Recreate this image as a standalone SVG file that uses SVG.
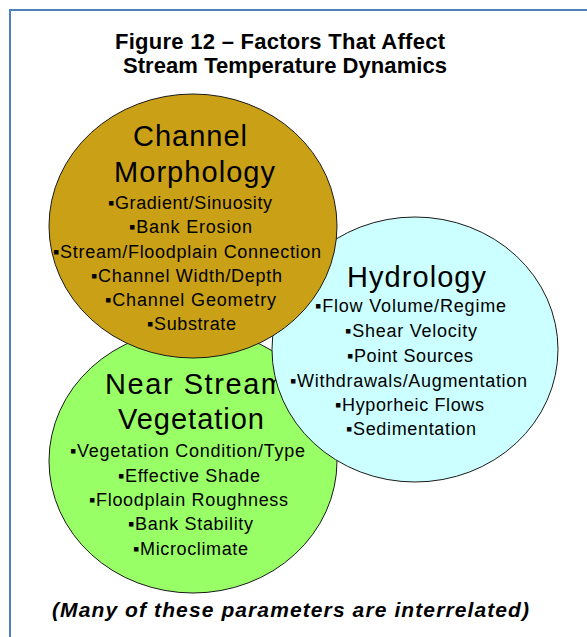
<svg xmlns="http://www.w3.org/2000/svg" width="587" height="637" viewBox="0 0 587 637">
<style>
text{font-family:"Liberation Sans",Arial,sans-serif;fill:#000}
.ttl{font-size:22px;font-weight:bold}
.hd{font-size:29px}
.it{font-size:18px}
.note{font-size:21px;font-weight:bold;font-style:italic}
.circ{stroke:#1a1a1a;stroke-width:1}
</style>
<rect x="0" y="0" width="587" height="637" fill="#fff"/>
<rect x="10" y="10" width="600" height="660" fill="#fff" stroke="#4F81BD" stroke-width="2"/>
<g id="title">
<text class="ttl" x="115" y="49" textLength="330" lengthAdjust="spacing">Figure 12 – Factors That Affect</text>
<text class="ttl" x="123" y="73" textLength="324" lengthAdjust="spacing">Stream Temperature Dynamics</text>
</g>
<g id="connectors"></g>
<g id="vegetation">
<ellipse class="circ" cx="193" cy="461" rx="144" ry="132" fill="#99FF66"/>
<text class="hd" x="105" y="394" textLength="180" lengthAdjust="spacing">Near Stream</text>
<text class="hd" x="118" y="429" textLength="146" lengthAdjust="spacing">Vegetation</text>
<text class="it" x="70" y="457" textLength="235" lengthAdjust="spacing">▪Vegetation Condition/Type</text>
<text class="it" x="118" y="481.5" textLength="142" lengthAdjust="spacing">▪Effective Shade</text>
<text class="it" x="89" y="506" textLength="199" lengthAdjust="spacing">▪Floodplain Roughness</text>
<text class="it" x="128" y="530" textLength="125" lengthAdjust="spacing">▪Bank Stability</text>
<text class="it" x="133" y="554.5" textLength="115" lengthAdjust="spacing">▪Microclimate</text>
</g>
<g id="hydrology">
<ellipse class="circ" cx="415" cy="349.5" rx="143" ry="132.5" fill="#CCFFFF"/>
<text class="hd" x="347" y="287" textLength="139" lengthAdjust="spacing">Hydrology</text>
<text class="it" x="315" y="312" textLength="191" lengthAdjust="spacing">▪Flow Volume/Regime</text>
<text class="it" x="345" y="337" textLength="132" lengthAdjust="spacing">▪Shear Velocity</text>
<text class="it" x="347" y="361.5" textLength="126" lengthAdjust="spacing">▪Point Sources</text>
<text class="it" x="290" y="386.5" textLength="237" lengthAdjust="spacing">▪Withdrawals/Augmentation</text>
<text class="it" x="335" y="410.5" textLength="149" lengthAdjust="spacing">▪Hyporheic Flows</text>
<text class="it" x="346" y="434.5" textLength="130" lengthAdjust="spacing">▪Sedimentation</text>
</g>
<g id="morphology">
<ellipse class="circ" cx="193" cy="226" rx="144" ry="132" fill="#CAA017"/>
<text class="hd" x="133" y="146" textLength="114" lengthAdjust="spacing">Channel</text>
<text class="hd" x="114" y="182" textLength="161" lengthAdjust="spacing">Morphology</text>
<text class="it" x="108" y="209" textLength="164" lengthAdjust="spacing">▪Gradient/Sinuosity</text>
<text class="it" x="129" y="233" textLength="123" lengthAdjust="spacing">▪Bank Erosion</text>
<text class="it" x="53" y="257.5" textLength="268" lengthAdjust="spacing">▪Stream/Floodplain Connection</text>
<text class="it" x="91" y="282" textLength="191" lengthAdjust="spacing">▪Channel Width/Depth</text>
<text class="it" x="105" y="306" textLength="171" lengthAdjust="spacing">▪Channel Geometry</text>
<text class="it" x="147" y="330" textLength="89" lengthAdjust="spacing">▪Substrate</text>
</g>
<g id="note">
<text class="note" x="52" y="617" textLength="477" lengthAdjust="spacing">(Many of these parameters are interrelated)</text>
</g>
</svg>
